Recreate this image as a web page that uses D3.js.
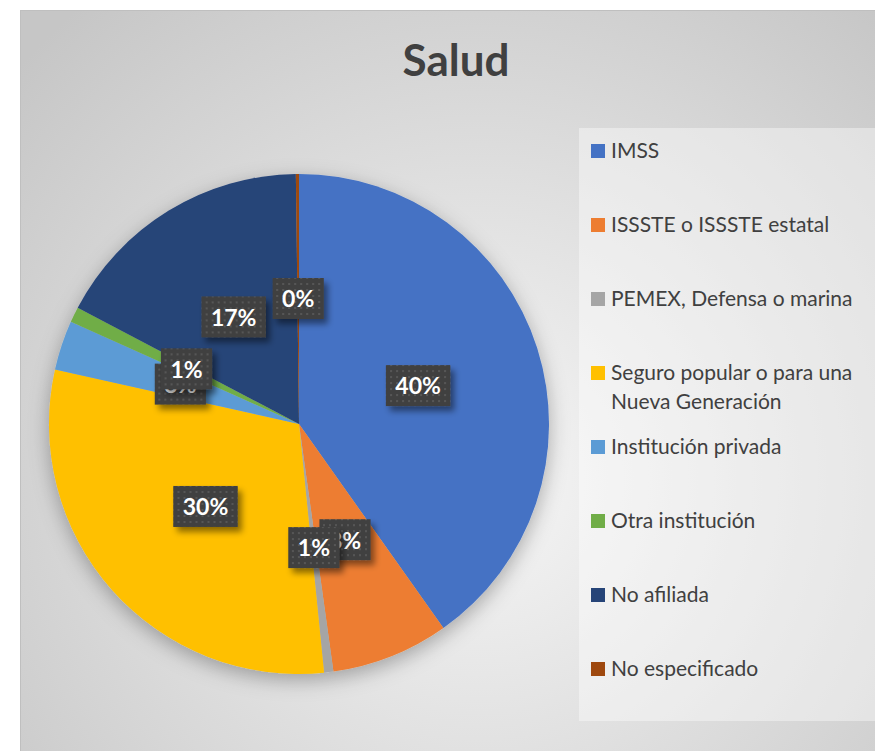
<!DOCTYPE html>
<html>
<head>
<meta charset="utf-8">
<script src="https://cdn.jsdelivr.net/npm/d3@7"></script>
<style>
    html, body { margin: 0; padding: 0; background: #ffffff; }
    svg { display: block; }
</style>
</head>
<body>
<div id="chart"></div>
<script>
// Chart data (percent of population by health affiliation)
const categories = [
    'IMSS',
    'ISSSTE o ISSSTE estatal',
    'PEMEX, Defensa o marina',
    'Seguro popular o para una Nueva Generación',
    'Institución privada',
    'Otra institución',
    'No afiliada',
    'No especificado'
];
const values = [40.2, 7.6, 0.6, 30.1, 3.2, 1.0, 17.1, 0.2];
const colors = ['#4472C4', '#ED7D31', '#A5A5A5', '#FFC000', '#5B9BD5', '#70AD47', '#264478', '#9E480E'];
const title = 'Salud';

const width = 875;
const height = 751;
const cx = 299, cy = 424, radius = 250;
const font = 'Lato, "Open Sans", sans-serif';

const svg = d3.select('#chart')
    .append('svg')
    .attr('width', width)
    .attr('height', height);

const defs = svg.append('defs');

// background radial gradient
const bg = defs.append('radialGradient')
    .attr('id', 'bg-grad')
    .attr('gradientUnits', 'userSpaceOnUse')
    .attr('cx', 480).attr('cy', 480).attr('r', 620);
bg.append('stop').attr('offset', '0%').attr('stop-color', '#f6f6f6');
bg.append('stop').attr('offset', '100%').attr('stop-color', '#c6c6c6');

// pie shadow
const pieShadow = defs.append('filter')
    .attr('id', 'pie-shadow')
    .attr('x', '-20%').attr('y', '-20%')
    .attr('width', '140%').attr('height', '140%');
pieShadow.append('feDropShadow')
    .attr('dx', 0).attr('dy', 6)
    .attr('stdDeviation', 10)
    .attr('flood-color', '#000')
    .attr('flood-opacity', 0.3);

// label shadow
const labelShadow = defs.append('filter')
    .attr('id', 'label-shadow')
    .attr('x', '-30%').attr('y', '-30%')
    .attr('width', '160%').attr('height', '170%');
labelShadow.append('feDropShadow')
    .attr('dx', 4).attr('dy', 5)
    .attr('stdDeviation', 3)
    .attr('flood-color', '#000')
    .attr('flood-opacity', 0.45);

// dotted fill for the labels
const dots = defs.append('pattern')
    .attr('id', 'dots')
    .attr('patternUnits', 'userSpaceOnUse')
    .attr('width', 6).attr('height', 6);
dots.append('rect').attr('width', 6).attr('height', 6).attr('fill', '#404040');
dots.append('rect').attr('x', 2).attr('y', 2).attr('width', 2).attr('height', 2).attr('fill', '#575757');

// chart frame
svg.append('rect')
    .attr('x', 20.5).attr('y', 10.5)
    .attr('width', 900).attr('height', 800)
    .attr('fill', 'url(#bg-grad)')
    .attr('stroke', '#bfbfbf')
    .attr('stroke-width', 1);

svg.append('text')
    .attr('x', 456)
    .attr('y', 76)
    .attr('text-anchor', 'middle')
    .attr('font-family', font)
    .attr('font-weight', 'bold')
    .attr('font-size', '44px')
    .attr('fill', '#404040')
    .text(title);

// legend panel
svg.append('rect')
    .attr('x', 579).attr('y', 128)
    .attr('width', 330).attr('height', 593)
    .attr('fill', '#ffffff')
    .attr('fill-opacity', 0.4);

// pie
const data = categories.map((c, i) => ({ name: c, value: values[i], color: colors[i] }));
const total = d3.sum(values);

const pie = d3.pie().sort(null).value(d => d.value);
const arcs = pie(data);
const arc = d3.arc().innerRadius(0).outerRadius(radius);

const g = svg.append('g')
    .attr('transform', `translate(${cx},${cy})`);

g.append('g')
    .attr('filter', 'url(#pie-shadow)')
    .selectAll('path')
    .data(arcs)
    .enter().append('path')
    .attr('d', arc)
    .attr('fill', d => d.data.color);

// data labels, drawn in series order so later ones overlap earlier ones
const label = g.append('g')
    .selectAll('g')
    .data(arcs)
    .enter().append('g')
    .attr('transform', d => `translate(${arc.centroid(d)})`);

label.append('rect')
    .attr('fill', 'url(#dots)')
    .attr('filter', 'url(#label-shadow)');

label.append('text')
    .attr('text-anchor', 'middle')
    .attr('dy', '0.36em')
    .attr('font-family', font)
    .attr('font-weight', 'bold')
    .attr('font-size', '23px')
    .attr('fill', '#ffffff')
    .text(d => Math.round(d.data.value / total * 100) + '%');

label.each(function() {
    const el = d3.select(this);
    const w = el.select('text').node().getComputedTextLength() + 19;
    el.select('rect')
        .attr('x', -w / 2).attr('y', -21)
        .attr('width', w).attr('height', 41);
});

// legend
const legend = svg.append('g')
    .attr('transform', 'translate(591, 151)');

const item = legend.selectAll('.legend-item')
    .data(data)
    .enter().append('g')
    .attr('class', 'legend-item')
    .attr('transform', (d, i) => `translate(0, ${i * 74})`);

item.append('rect')
    .attr('x', 0).attr('y', -7)
    .attr('width', 14).attr('height', 14)
    .attr('fill', d => d.color);

item.append('text')
    .attr('x', 20)
    .attr('y', 0)
    .attr('dy', '0.35em')
    .attr('font-family', font)
    .attr('font-size', '21px')
    .attr('fill', '#404040')
    .each(function(d) {
        const text = d3.select(this);
        const words = d.name.split(' ');
        const maxWidth = 264;
        let line = [];
        let tspan = text.append('tspan').attr('x', 20);
        words.forEach(word => {
            line.push(word);
            tspan.text(line.join(' '));
            if (tspan.node().getComputedTextLength() > maxWidth && line.length > 1) {
                line.pop();
                tspan.text(line.join(' '));
                line = [word];
                tspan = text.append('tspan')
                    .attr('x', 20)
                    .attr('dy', '29px')
                    .text(word);
            }
        });
    });
</script>
</body>
</html>
